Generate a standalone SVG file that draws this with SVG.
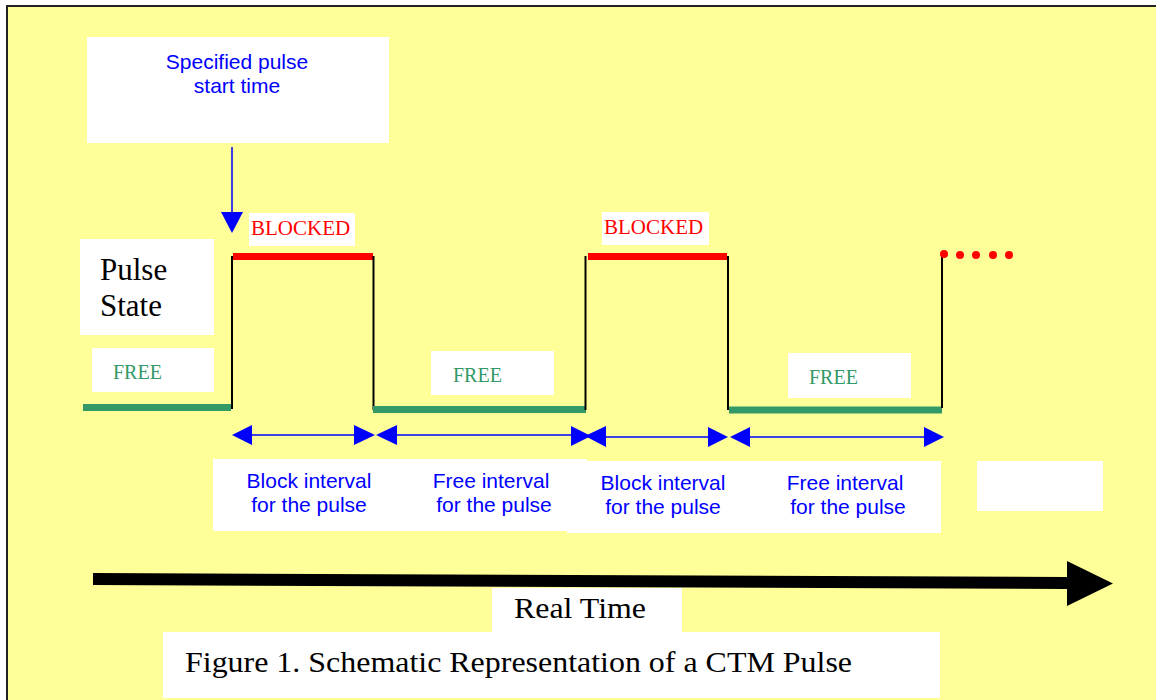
<svg xmlns="http://www.w3.org/2000/svg" width="1156" height="700" viewBox="0 0 1156 700">
<style>
.box{fill:#ffffff;stroke:none}
.sans{font-family:"Liberation Sans",Arial,sans-serif;fill:#0000ff;font-size:21px}
.serif{font-family:"Liberation Serif","Times New Roman",serif}
.blk{fill:#ff0000;font-size:21px}
.free{fill:#339966;font-size:20px}
.red{stroke:#ff0000;stroke-width:7;fill:none}
.grn{stroke:#339966;stroke-width:7;fill:none}
.vert{stroke:#000000;stroke-width:2;fill:none}
.dbl{stroke:#0000ff;stroke-width:1.5;fill:none}
.head{fill:#0000ff}
</style>
<rect x="0" y="0" width="1156" height="700" fill="#ffffff"/>
<rect x="7" y="6" width="1160" height="710" fill="#ffff99" stroke="#222222" stroke-width="2"/>

<g id="start-label">
<rect class="box" x="87" y="37" width="302" height="106"/>
<text class="sans" x="237" y="69" text-anchor="middle">Specified pulse</text>
<text class="sans" x="237" y="93" text-anchor="middle">start time</text>
</g>

<g id="pulse-state">
<rect class="box" x="80" y="239" width="134" height="96"/>
<text class="serif" x="100" y="280" font-size="31" fill="#000">Pulse</text>
<text class="serif" x="100" y="316" font-size="31" fill="#000">State</text>
</g>

<g id="free-label-1">
<rect class="box" x="92" y="348" width="122" height="44"/>
<text class="serif free" x="113" y="379">FREE</text>
</g>
<g id="free-label-2">
<rect class="box" x="431" y="351" width="123" height="44"/>
<text class="serif free" x="453" y="382">FREE</text>
</g>
<g id="free-label-3">
<rect class="box" x="788" y="353" width="123" height="45"/>
<text class="serif free" x="809" y="384">FREE</text>
</g>
<g id="blocked-label-1">
<rect class="box" x="249" y="213" width="106" height="33"/>
<text class="serif blk" x="251" y="235">BLOCKED</text>
</g>
<g id="blocked-label-2">
<rect class="box" x="602" y="212" width="107" height="33"/>
<text class="serif blk" x="604" y="234">BLOCKED</text>
</g>

<g id="interval-labels-a">
<rect class="box" x="213" y="459" width="374" height="72"/>
<text class="sans" x="309" y="488" text-anchor="middle">Block interval</text>
<text class="sans" x="309" y="512" text-anchor="middle">for the pulse</text>
<text class="sans" x="491" y="488" text-anchor="middle">Free interval</text>
<text class="sans" x="494" y="512" text-anchor="middle">for the pulse</text>
</g>
<g id="interval-labels-b">
<rect class="box" x="567" y="461" width="374" height="72"/>
<text class="sans" x="663" y="490" text-anchor="middle">Block interval</text>
<text class="sans" x="663" y="514" text-anchor="middle">for the pulse</text>
<text class="sans" x="845" y="490" text-anchor="middle">Free interval</text>
<text class="sans" x="848" y="514" text-anchor="middle">for the pulse</text>
</g>
<g id="empty-box">
<rect class="box" x="977" y="461" width="126" height="50"/>
</g>

<g id="real-time">
<rect class="box" x="492" y="588" width="190" height="44"/>
<text class="serif" x="514" y="618" font-size="30" fill="#000" textLength="132" lengthAdjust="spacingAndGlyphs">Real Time</text>
</g>
<g id="caption">
<rect class="box" x="163" y="632" width="777" height="66"/>
<text class="serif" x="185" y="672" font-size="30" fill="#000" textLength="667" lengthAdjust="spacingAndGlyphs">Figure 1. Schematic Representation of a CTM Pulse</text>
</g>

<g id="connectors">
<line x1="232" y1="147" x2="232" y2="214" stroke="#0000ff" stroke-width="1.5"/>
<polygon class="head" points="221,212 243,212 232,233"/>

<line class="grn" x1="83" y1="407.5" x2="231" y2="407.5"/>
<line class="vert" x1="232" y1="256" x2="232" y2="409"/>
<line class="red" x1="233" y1="256.5" x2="373" y2="256.5"/>
<line class="vert" x1="373.5" y1="256" x2="373.5" y2="410"/>
<line class="grn" x1="373" y1="409.5" x2="586" y2="409.5"/>
<line class="vert" x1="585.5" y1="256" x2="585.5" y2="410"/>
<line class="red" x1="588" y1="256.5" x2="727" y2="256.5"/>
<line class="vert" x1="728" y1="256" x2="728" y2="410"/>
<line class="grn" x1="729" y1="410" x2="942" y2="410"/>
<line class="vert" x1="942" y1="254" x2="942" y2="408"/>
<g fill="#ff0000">
<circle cx="944" cy="254" r="4"/>
<circle cx="960" cy="255" r="4"/>
<circle cx="976" cy="255" r="4"/>
<circle cx="993" cy="255" r="4"/>
<circle cx="1009" cy="255" r="4"/>
</g>

<line class="dbl" x1="250" y1="435" x2="356" y2="435"/>
<polygon class="head" points="232,435 252,425 252,445"/>
<polygon class="head" points="375,435 354,425 354,445"/>

<line class="dbl" x1="395" y1="435" x2="573" y2="435"/>
<polygon class="head" points="376,435 397,425 397,445"/>
<polygon class="head" points="591,436 571,426 571,446"/>

<line class="dbl" x1="604" y1="437" x2="710" y2="437"/>
<polygon class="head" points="585,436 606,426 606,447"/>
<polygon class="head" points="728,437 708,427 708,447"/>

<line class="dbl" x1="748" y1="437" x2="926" y2="437"/>
<polygon class="head" points="730,437 750,427 750,447"/>
<polygon class="head" points="944,437 924,427 924,447"/>

<polygon fill="#000" points="93,573 1067,577 1067,561 1113,583.5 1067,606 1067,589 93,585"/>
</g>
</svg>
